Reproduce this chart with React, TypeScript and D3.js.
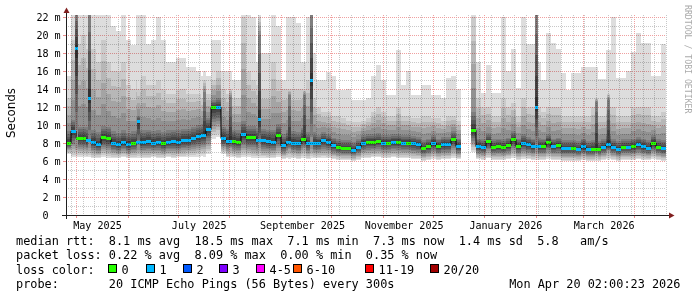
import React from "react";
import * as d3 from "d3";

// ---------- data ----------
const startTime = Date.UTC(2025, 3, 25, 2, 0, 0);
const DAY = 86400000;
const rangeDays = 360;
const stepDays = 3;

// regular samples, one every 3 days
const median: (number | null)[] = [
  8.0, 9.3, 8.5, 8.5, 8.3, 8.1, 7.8, 8.6, 8.5, 8.0,
  7.8, 8.1, 7.8, 8.0, 8.1, 8.1, 8.2, 8.0, 8.1, 7.9,
  8.1, 8.2, 8.1, 8.3, 8.3, 8.5, 8.7, 8.8, 9.5, 11.9,
  12.0, 8.5, 8.2, 8.2, 8.1, 9.0, 8.6, 8.6, 8.3, 8.3,
  8.2, 8.1, 8.8, 7.7, 8.1, 8.0, 7.9, 8.4, 7.9, 8.0,
  8.0, 8.3, 8.1, 7.7, 7.5, 7.4, 7.4, 7.2, 7.5, 8.0,
  8.1, 8.1, 8.2, 8.0, 8.0, 8.1, 8.1, 8.0, 8.0, 7.9,
  7.8, 7.4, 7.6, 8.0, 7.6, 7.8, 7.8, 8.4, 7.6, null,
  null, 9.4, 7.6, 7.5, 8.2, 7.5, 7.6, 7.5, 7.7, 8.4,
  7.6, 8.0, 7.8, 7.6, 7.6, 7.6, 8.1, 7.6, 7.7, 7.4,
  7.4, 7.4, 7.3, 7.6, 7.3, 7.3, 7.3, 7.5, 7.8, 7.5,
  7.3, 7.5, 7.5, 7.6, 7.8, 7.6, 7.4, 8.0, 7.5, 7.4,
];

const loss: (number | null)[] = [
  0, 1, 0, 0, 1, 1, 1, 0, 0, 1,
  1, 1, 1, 0, 1, 1, 1, 1, 1, 0,
  1, 1, 1, 1, 1, 1, 1, 1, 1, 0,
  1, 1, 1, 0, 0, 1, 0, 0, 1, 1,
  1, 1, 0, 1, 1, 1, 1, 0, 1, 1,
  1, 1, 1, 1, 0, 0, 0, 1, 1, 1,
  0, 0, 0, 1, 0, 1, 0, 1, 0, 1,
  1, 0, 0, 1, 0, 1, 1, 0, 1, null,
  null, 0, 1, 1, 0, 0, 0, 0, 0, 0,
  0, 1, 1, 1, 1, 0, 0, 1, 0, 1,
  1, 0, 1, 1, 1, 0, 0, 1, 1, 1,
  1, 0, 1, 0, 1, 1, 1, 0, 0, 1,
];

const pingMin: (number | null)[] = [
  6.8, 6.4, 6.5, 6.4, 6.4, 6.3, 6.3, 6.4, 6.3, 6.3,
  6.3, 6.4, 6.3, 6.3, 6.3, 6.3, 6.3, 6.4, 6.3, 6.3,
  6.4, 6.3, 6.4, 6.4, 6.5, 6.5, 6.5, 6.6, 6.8, 8.5,
  8.7, 6.8, 6.4, 6.4, 6.3, 6.4, 6.4, 6.3, 6.3, 6.3,
  6.3, 6.3, 6.4, 6.2, 6.3, 6.3, 6.2, 6.3, 6.2, 6.3,
  6.3, 6.3, 6.3, 6.2, 6.1, 6.1, 6.1, 6.0, 6.1, 6.3,
  6.3, 6.4, 6.4, 6.3, 6.3, 6.4, 6.3, 6.3, 6.3, 6.2,
  6.2, 6.0, 6.1, 6.2, 6.1, 6.2, 6.2, 6.3, 6.2, null,
  null, 7.0, 6.2, 6.1, 6.3, 6.1, 6.1, 6.1, 6.2, 6.3,
  6.1, 6.2, 6.2, 6.1, 6.1, 6.1, 6.2, 6.1, 6.1, 6.0,
  6.0, 6.0, 6.0, 6.1, 6.0, 6.0, 6.0, 6.1, 6.2, 6.1,
  6.0, 6.1, 6.1, 6.1, 6.2, 6.1, 6.1, 6.2, 6.1, 6.0,
];

const ping15: (number | null)[] = [
  9.3, 10.6, 9.8, 9.8, 9.8, 9.4, 9.2, 9.9, 9.8, 9.3,
  9.1, 9.4, 9.1, 9.3, 9.5, 9.4, 9.5, 9.3, 9.4, 9.2,
  9.4, 9.5, 9.4, 9.6, 9.6, 9.8, 10.0, 10.1, 10.8, 12.8,
  13.0, 9.8, 9.6, 9.5, 9.4, 10.5, 9.9, 9.9, 9.7, 9.6,
  9.5, 9.5, 10.1, 9.0, 9.4, 9.3, 9.2, 9.7, 9.2, 9.2,
  8.9, 9.2, 9.0, 8.6, 8.4, 8.3, 8.3, 8.1, 8.4, 8.9,
  9.0, 9.0, 9.1, 8.9, 8.9, 9.0, 9.0, 8.9, 8.9, 8.8,
  8.7, 8.3, 8.5, 8.9, 8.5, 8.7, 8.7, 9.3, 8.5, null,
  null, 11.5, 8.5, 8.4, 9.1, 8.4, 8.5, 8.5, 8.6, 9.3,
  8.5, 9.0, 8.7, 8.5, 8.6, 8.5, 9.0, 8.5, 8.6, 8.3,
  8.3, 8.3, 8.2, 8.5, 8.2, 8.3, 8.2, 8.4, 9.0, 8.4,
  8.2, 8.4, 8.4, 8.5, 8.7, 8.5, 8.3, 8.9, 8.4, 8.3,
];

const ping19: (number | null)[] = [
  13, 19.5, 19, 20, 18.5, 18.5, 17, 19.5, 17, 16,
  16, 17, 14.5, 14, 15, 15.5, 14.5, 14.5, 15, 14,
  13.5, 13.5, 14, 14, 13.5, 13.5, 13.5, 13, 13.5, 15,
  16, 14, 13.5, 13, 13, 22, 16, 15, 14.5, 14,
  14, 17, 15, 14, 14, 14, 14, 14, 15, 13,
  12, 11.5, 11.5, 11, 11, 10.8, 10.5, 10.3, 10.3, 10.5,
  10.8, 11.5, 12, 11.5, 11, 11, 12, 11, 11, 10.8,
  10.8, 11, 11, 10.8, 10.8, 10.5, 11, 11, 10.5, null,
  null, 22, 13, 12, 12, 11, 11, 13, 12, 12.5,
  11, 13, 12, 12, 12, 11.5, 12, 12, 12, 11,
  11, 11, 11, 11, 11, 12, 11, 11, 12, 12,
  11, 11, 11, 12, 12, 12, 12, 11, 11, 11.5,
];

const pingMax: (number | null)[] = [
  15.4, 22.5, 22.5, 22.5, 22.5, 22.5, 22.5, 22.5, 22.5, 21,
  20.5, 22.5, 19.4, 18.9, 22.5, 22.5, 19, 19.5, 22, 19.5,
  17, 17, 17.5, 17.5, 16.5, 16.5, 16, 15.4, 15.5, 19.5,
  19.5, 16, 16, 15, 15, 22.5, 22.5, 22, 17, 18,
  18, 22.5, 21, 15, 22, 22, 21.3, 17, 22, 18,
  15, 15, 15.9, 15.5, 13.9, 13.9, 14, 12.8, 12.8, 12.8,
  13, 15.5, 16.7, 15, 13.3, 13.3, 18.3, 14.4, 16, 13.3,
  13.3, 14.4, 14.4, 13.3, 13.3, 13, 15.2, 15.4, 14, null,
  null, 22.5, 17, 13.6, 16.7, 13.6, 13.6, 22, 16, 18.5,
  14.1, 22, 19, 19, 17, 15, 20.2, 19.1, 18.5, 15.8,
  13.9, 15.8, 15.8, 16.4, 16.4, 16.4, 15.1, 15.1, 18.3, 22,
  15.2, 15.2, 16, 18.1, 20.2, 19.1, 19.1, 15.4, 15.4, 19,
];

// short events (about two days wide): day offset from the start
const spikeDay = [5.6, 13.4, 42.8, 82.1, 97.7, 115.4, 133.4, 142.4, 146.6, 281.6, 317.6, 324.8];
const spikeMedian = [18.5, 13.0, 10.4, 8.8, 8.2, 10.6, 8.1, 8.4, 15.0, 12.0, 7.3, 7.8];
const spikeLoss = [1, 1, 1, 1, 1, 1, 1, 0, 1, 1, 0, 1];
const spikeMin = [6.4, 6.4, 6.3, 6.5, 6.4, 6.3, 6.2, 6.3, 6.3, 6.1, 6.0, 6.1];
const spike5 = [7.5, 7.4, 7.2, 7.6, 7.4, 7.4, 7.3, 7.4, 7.3, 7.0, 6.8, 7.1];
const spike15 = [22.5, 22.5, 11.0, 13.7, 13.1, 20.0, 13.3, 13.3, 22.5, 22.5, 12.6, 12.8];
const spike19 = [22.5, 22.5, 14.0, 15.0, 14.0, 22.0, 14.0, 14.0, 22.5, 22.5, 13.0, 13.5];
const spikeMax = [22.5, 22.5, 22.5, 16.0, 16.0, 22.5, 16.0, 17.0, 22.5, 22.5, 16.4, 18.3];
const spikeWidthDays = 1.8;

const yTickValues = [0, 2, 4, 6, 8, 10, 12, 14, 16, 18, 20, 22];
const yTickLabels = ["0", "2 m", "4 m", "6 m", "8 m", "10 m", "12 m", "14 m", "16 m", "18 m", "20 m", "22 m"];
const yMinorValues = [1, 3, 5, 7, 9, 11, 13, 15, 17, 19, 21];
const monthLabels = ["May 2025", "July 2025", "September 2025", "November 2025", "January 2026", "March 2026"];
const monthLabelStarts = [
  Date.UTC(2025, 4, 1), Date.UTC(2025, 6, 1), Date.UTC(2025, 8, 1),
  Date.UTC(2025, 10, 1), Date.UTC(2026, 0, 1), Date.UTC(2026, 2, 1),
];

const lossLabels = ["0", "1", "2", "3", "4-5", "6-10", "11-19", "20/20"];
const lossColors = ["#26ff00", "#00b8ff", "#0059ff", "#7e00ff", "#ff00ff", "#ff5500", "#ff0000", "#a10000"];
const lossUpper = [0, 1, 2, 3, 5, 10, 19, 20];

const rttStats = ["8.1 ms avg", "18.5 ms max", "7.1 ms min", "7.3 ms now", "1.4 ms sd", "5.8   am/s"];
const lossStats = ["0.22 % avg", "8.09 % max", "0.00 % min", "0.35 % now"];
const probeText = "20 ICMP Echo Pings (56 Bytes) every 300s";
const stampText = "Mon Apr 20 02:00:23 2026";

// ---------- layout ----------
const W = 697, H = 297;
const X0 = 66, X1 = 666, Y0 = 215, Y1 = 15;
const MONO = "'DejaVu Sans Mono', monospace";
const SANS = "'DejaVu Sans', sans-serif";
const LEGEND_FS = 11.86;
const AXIS_FS = 10.1;
const SWATCH_X = [108, 146, 183, 219, 256, 293, 365, 430];

const nb = (s: string) => s.replace(/ /g, "\u00a0");

function smokeColor(b: number) {
  const v = Math.floor((190 / 10) * (10 - b)) + 50;
  const h = v.toString(16).padStart(2, "0");
  return "#" + h + h + h;
}

function lossColor(l: number) {
  const idx = lossUpper.findIndex((u) => l <= u);
  return lossColors[idx < 0 ? lossColors.length - 1 : idx];
}

// ranks 1..20 of the 20 sorted pings, built from the read quantiles
function quantiles(lo: number, p5: number | null, m: number, p15: number, p19: number, mx: number): number[] {
  const q: number[] = [];
  for (let k = 1; k <= 20; k++) {
    let v: number;
    if (k <= 10) {
      if (p5 == null) v = lo + ((k - 1) / 9.5) * (m - lo);
      else if (k <= 5) v = lo + ((k - 1) / 4) * (p5 - lo);
      else v = p5 + ((k - 5) / 5.5) * (m - p5);
    } else if (k <= 15) v = m + ((k - 10.5) / 4.5) * (p15 - m);
    else if (k <= 19) v = p15 + ((k - 15) / 4) * (p19 - p15);
    else v = mx;
    q[k] = v;
  }
  return q;
}

export default function App() {
  const x = d3.scaleUtc()
    .domain([new Date(startTime), new Date(startTime + rangeDays * DAY)])
    .range([X0, X1]);
  const y = d3.scaleLinear().domain([0, (Y0 - Y1) / 9]).range([Y0, Y1]);

  const t = (days: number) => new Date(startTime + days * DAY);

  const smokeRects = (key: string, xa: number, xb: number, q: number[]) => {
    const out: React.ReactNode[] = [];
    for (let b = 1; b <= 10; b++) {
      const top = y(q[21 - b]), bot = y(q[b]);
      out.push(
        <rect key={`${key}-${b}`} x={xa} y={top} width={xb - xa} height={Math.max(0, bot - top)}
          fill={smokeColor(b)} shapeRendering="crispEdges" />
      );
    }
    return out;
  };

  const baseSmoke: React.ReactNode[] = [];
  const baseBlocks: React.ReactNode[] = [];
  let medPath = "";
  let prevDefined = false;
  median.forEach((m, i) => {
    if (m == null) { prevDefined = false; return; }
    const xa = x(t(i * stepDays)), xb = x(t((i + 1) * stepDays));
    const q = quantiles(pingMin[i] as number, null, m, ping15[i] as number, ping19[i] as number, pingMax[i] as number);
    baseSmoke.push(...smokeRects(`s${i}`, xa, xb, q));
    const ym = y(m);
    medPath += prevDefined ? `V${ym}H${xb}` : `M${xa},${ym}H${xb}`;
    prevDefined = true;
    baseBlocks.push(
      <rect key={`m${i}`} x={xa} y={ym - 1.5} width={xb - xa} height={3}
        fill={lossColor(loss[i] as number)} shapeRendering="crispEdges" />
    );
  });

  const spikeSmoke: React.ReactNode[] = [];
  const spikeBlocks: React.ReactNode[] = [];
  spikeDay.forEach((d, j) => {
    const xa = x(t(d)), xb = x(t(d + spikeWidthDays));
    const q = quantiles(spikeMin[j], spike5[j], spikeMedian[j], spike15[j], spike19[j], spikeMax[j]);
    spikeSmoke.push(...smokeRects(`k${j}`, xa, xb, q));
    const ym = y(spikeMedian[j]);
    spikeBlocks.push(
      <rect key={`km${j}`} x={xa} y={ym - 1.5} width={xb - xa} height={3}
        fill={lossColor(spikeLoss[j])} shapeRendering="crispEdges" />
    );
  });

  const majorX = d3.utcMonth.range(new Date(startTime), new Date(startTime + rangeDays * DAY));
  const minorX = d3.utcMonday.range(new Date(startTime), new Date(startTime + rangeDays * DAY));
  const px = (v: number) => Math.round(v) + 0.5;

  const gridGray = "rgb(200,200,200)";
  const gridRed = "rgb(240,160,160)";

  const legendY = [245, 259.3, 273.6, 288];

  return (
    <svg width={W} height={H} viewBox={`0 0 ${W} ${H}`}
      style={{ position: "absolute", left: 0, top: 0, display: "block" }}>
      <rect x={0} y={0} width={W} height={H} fill="#ffffff" />
      <defs>
        <clipPath id="plot">
          <rect x={X0} y={Y1} width={X1 - X0} height={Y0 - Y1} />
        </clipPath>
      </defs>

      <g clipPath="url(#plot)">
        {baseSmoke}
        {spikeSmoke}
        <path d={medPath} fill="none" stroke="#000000" strokeWidth={1} />
        {baseBlocks}
        {spikeBlocks}
      </g>

      {/* grid */}
      <g strokeDasharray="1,1" strokeWidth={1} fill="none" shapeRendering="crispEdges" style={{ mixBlendMode: "multiply" }}>
        {minorX.map((d, i) => (
          <line key={`vx${i}`} x1={px(x(d))} x2={px(x(d))} y1={Y1} y2={Y0} stroke={gridGray} />
        ))}
        {yMinorValues.map((v) => (
          <line key={`hy${v}`} x1={X0} x2={X1} y1={px(y(v))} y2={px(y(v))} stroke={gridGray} />
        ))}
        {majorX.map((d, i) => (
          <line key={`mx${i}`} x1={px(x(d))} x2={px(x(d))} y1={Y1} y2={Y0} stroke={gridRed} />
        ))}
        {yTickValues.filter((v) => v > 0).map((v) => (
          <line key={`my${v}`} x1={X0} x2={X1} y1={px(y(v))} y2={px(y(v))} stroke={gridRed} />
        ))}
      </g>

      {/* ticks */}
      <g stroke="rgb(235,140,140)" strokeWidth={1} shapeRendering="crispEdges">
        {majorX.map((d, i) => (
          <line key={`tx${i}`} x1={px(x(d))} x2={px(x(d))} y1={Y0} y2={Y0 + 3} />
        ))}
        {yTickValues.filter((v) => v > 0).map((v) => (
          <line key={`ty${v}`} x1={X0 - 3} x2={X0} y1={px(y(v))} y2={px(y(v))} />
        ))}
      </g>

      {/* axes */}
      <line x1={X0 - 4} x2={X1 + 4} y1={Y0 + 0.5} y2={Y0 + 0.5} stroke="#1f1f1f" strokeWidth={1} shapeRendering="crispEdges" />
      <line x1={X0 + 0.5} x2={X0 + 0.5} y1={Y0 + 4} y2={Y1 - 3} stroke="#1f1f1f" strokeWidth={1} shapeRendering="crispEdges" />
      <path d={`M${X1 + 3},${Y0 - 2.5}L${X1 + 8.5},${Y0 + 0.5}L${X1 + 3},${Y0 + 3.5}Z`} fill="#801f1f" />
      <path d={`M${X0 - 2.5},${Y1 - 2}L${X0 + 0.5},${Y1 - 7.5}L${X0 + 3.5},${Y1 - 2}Z`} fill="#801f1f" />

      {/* axis labels */}
      <g fontFamily={MONO} fontSize={AXIS_FS} fill="#000">
        {yTickValues.map((v, i) => (
          <text key={`yl${v}`} x={v === 0 ? 60.7 - 2 * AXIS_FS * 0.602 : 60.7} y={y(v) + 3.7} textAnchor="end">
            {yTickLabels[i]}
          </text>
        ))}
        {monthLabels.map((s, i) => (
          <text key={`xl${i}`} x={x(new Date(monthLabelStarts[i] + 13 * DAY))} y={228.5} textAnchor="middle">
            {s}
          </text>
        ))}
      </g>

      <text transform="translate(15,113) rotate(-90)" textAnchor="middle" fontFamily={SANS}
        fontSize={LEGEND_FS} fill="#000">Seconds</text>

      <text transform="translate(685,5) rotate(90)" fontFamily={MONO} fontSize={8.2} fill="#aaaaaa">
        {nb("RRDTOOL / TOBI OETIKER")}
      </text>

      {/* legend */}
      <g fontFamily={MONO} fontSize={LEGEND_FS} fill="#000">
        <text x={16} y={legendY[0]}>{nb("median rtt:  " + rttStats.join("  "))}</text>
        <text x={16} y={legendY[1]}>{nb("packet loss: " + lossStats.join("  "))}</text>
        <text x={16} y={legendY[2]}>{nb("loss color:")}</text>
        {lossLabels.map((l, i) => (
          <g key={`lg${i}`}>
            <rect x={SWATCH_X[i] + 0.5} y={264.5} width={8} height={8} fill={lossColors[i]} stroke="#000" strokeWidth={1} />
            <text x={SWATCH_X[i] + 13.5} y={legendY[2]}>{l}</text>
          </g>
        ))}
        <text x={16} y={legendY[3]}>{nb("probe:       " + probeText)}</text>
        <text x={680.5} y={legendY[3]} textAnchor="end">{nb(stampText)}</text>
      </g>
    </svg>
  );
}
